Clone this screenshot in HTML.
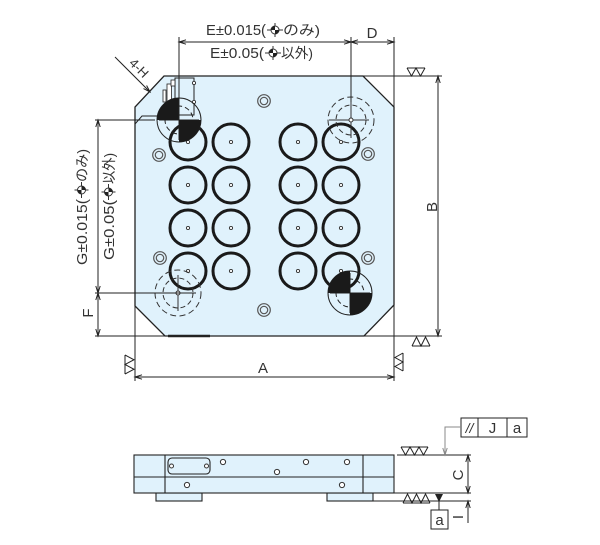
<!DOCTYPE html>
<html><head><meta charset="utf-8"><style>
html,body{margin:0;padding:0;background:#fff;}
svg{display:block;}
text{font-family:"Liberation Sans","Noto Sans CJK JP",sans-serif;fill:#333;}
</style></head><body>
<svg width="600" height="545" viewBox="0 0 600 545" xmlns="http://www.w3.org/2000/svg">
<defs>
<g id="sym">
<line x1="-8" y1="0" x2="8" y2="0" stroke="#333" stroke-width="1"/>
<line x1="0" y1="-7" x2="0" y2="7" stroke="#333" stroke-width="1"/>
<circle r="4" fill="#fff" stroke="#333" stroke-width="1"/>
<path d="M0,0 L-4,0 A4,4 0 0 1 0,-4Z M0,0 L4,0 A4,4 0 0 1 0,4Z" fill="#222"/>
</g>
</defs>

<!-- plate -->
<polygon points="164,76 363,76 394,107 394,305 364,336 165,336 135,306 135,107" fill="#e0f2fc" stroke="#222" stroke-width="1.3"/>
<line x1="168" y1="336" x2="210" y2="336" stroke="#222" stroke-width="2.5"/>

<!-- small inner detail top-left -->
<polyline points="135,124 142,116 157,116" fill="none" stroke="#222" stroke-width="1"/>
<rect x="175" y="78" width="19" height="37" fill="none" stroke="#222" stroke-width="1"/>
<circle cx="194" cy="83" r="1.6" fill="#fff" stroke="#222" stroke-width="0.8"/>
<circle cx="194" cy="102" r="1.6" fill="#fff" stroke="#222" stroke-width="0.8"/>
<rect x="163" y="90" width="3" height="12" fill="#fff" stroke="#222" stroke-width="0.8"/>
<rect x="167" y="84" width="4.5" height="18" fill="#fff" stroke="#222" stroke-width="0.8"/>
<rect x="171" y="80" width="4" height="6" fill="#fff" stroke="#222" stroke-width="0.8"/>

<!-- big rings -->
<g fill="none" stroke="#1a1a1a" stroke-width="3">
<circle cx="188" cy="142" r="18"/><circle cx="231" cy="142" r="18"/><circle cx="298" cy="142" r="18"/><circle cx="341" cy="142" r="18"/>
<circle cx="188" cy="185" r="18"/><circle cx="231" cy="185" r="18"/><circle cx="298" cy="185" r="18"/><circle cx="341" cy="185" r="18"/>
<circle cx="188" cy="228" r="18"/><circle cx="231" cy="228" r="18"/><circle cx="298" cy="228" r="18"/><circle cx="341" cy="228" r="18"/>
<circle cx="188" cy="271" r="18"/><circle cx="231" cy="271" r="18"/><circle cx="298" cy="271" r="18"/><circle cx="341" cy="271" r="18"/>
</g>
<g fill="#fff" stroke="#333" stroke-width="0.9">
<circle cx="188" cy="142" r="1.6"/><circle cx="231" cy="142" r="1.6"/><circle cx="298" cy="142" r="1.6"/><circle cx="341" cy="142" r="1.6"/>
<circle cx="188" cy="185" r="1.6"/><circle cx="231" cy="185" r="1.6"/><circle cx="298" cy="185" r="1.6"/><circle cx="341" cy="185" r="1.6"/>
<circle cx="188" cy="228" r="1.6"/><circle cx="231" cy="228" r="1.6"/><circle cx="298" cy="228" r="1.6"/><circle cx="341" cy="228" r="1.6"/>
<circle cx="188" cy="271" r="1.6"/><circle cx="231" cy="271" r="1.6"/><circle cx="298" cy="271" r="1.6"/><circle cx="341" cy="271" r="1.6"/>
</g>

<!-- small counterbore rings -->
<g fill="none" stroke="#555" stroke-width="1.2">
<circle cx="159" cy="155" r="6.3"/><circle cx="159" cy="155" r="3.7"/>
<circle cx="160" cy="258" r="6.3"/><circle cx="160" cy="258" r="3.7"/>
<circle cx="368" cy="154" r="6.3"/><circle cx="368" cy="154" r="3.7"/>
<circle cx="368" cy="258" r="6.3"/><circle cx="368" cy="258" r="3.7"/>
<circle cx="264" cy="101" r="6.3"/><circle cx="264" cy="101" r="3.7"/>
<circle cx="264" cy="310" r="6.3"/><circle cx="264" cy="310" r="3.7"/>
</g>

<!-- solid targets -->
<g stroke="#222" stroke-width="1" fill="none">
<circle cx="179" cy="120" r="22"/>
<circle cx="179" cy="120" r="14" stroke-dasharray="5,3"/>
<line x1="159" y1="120" x2="199" y2="120"/><line x1="179" y1="100" x2="179" y2="140"/>
<circle cx="350" cy="293" r="22"/>
<circle cx="350" cy="293" r="14" stroke-dasharray="5,3"/>
<line x1="330" y1="293" x2="370" y2="293"/><line x1="350" y1="273" x2="350" y2="313"/>
</g>
<path d="M179,120 L157,120 A22,22 0 0 1 179,98 Z M179,120 L201,120 A22,22 0 0 1 179,142 Z" fill="#1a1a1a"/>
<path d="M350,293 L328,293 A22,22 0 0 1 350,271 Z M350,293 L372,293 A22,22 0 0 1 350,315 Z" fill="#1a1a1a"/>

<!-- dashed targets -->
<g stroke="#333" stroke-width="1" fill="none">
<circle cx="351" cy="120" r="23" stroke-dasharray="6,3.5"/>
<circle cx="351" cy="120" r="15" stroke-dasharray="5,3"/>
<line x1="329" y1="120" x2="369" y2="120"/><line x1="351" y1="102" x2="351" y2="138"/>
<circle cx="351" cy="120" r="2" fill="#fff"/>
<circle cx="178" cy="293" r="23" stroke-dasharray="6,3.5"/>
<circle cx="178" cy="293" r="15" stroke-dasharray="5,3"/>
<line x1="178" y1="275" x2="178" y2="311"/>
<circle cx="178" cy="293" r="2" fill="#fff"/>
</g>

<!-- dimension/extension lines -->
<g stroke="#222" stroke-width="1" fill="none">
<line x1="179" y1="37" x2="179" y2="120"/>
<line x1="351" y1="37" x2="351" y2="102"/>
<line x1="394" y1="37" x2="394" y2="107"/>
<line x1="179" y1="42" x2="394" y2="42"/>
<polyline points="186,39.8 179,42 186,44.2"/>
<polyline points="344,39.8 351,42 344,44.2"/>
<polyline points="358,39.8 351,42 358,44.2"/>
<polyline points="387,39.8 394,42 387,44.2"/>

<line x1="363" y1="76" x2="442" y2="76"/>
<line x1="95" y1="336" x2="442" y2="336"/>
<line x1="438" y1="76" x2="438" y2="336"/>
<polyline points="435.8,83 438,76 440.2,83"/>
<polyline points="435.8,329 438,336 440.2,329"/>

<line x1="95" y1="120" x2="155" y2="120"/>
<line x1="95" y1="293" x2="196" y2="293"/>
<line x1="98" y1="120" x2="98" y2="336"/>
<polyline points="95.8,127 98,120 100.2,127"/>
<polyline points="95.8,286 98,293 100.2,286"/>
<polyline points="95.8,300 98,293 100.2,300"/>
<polyline points="95.8,329 98,336 100.2,329"/>

<line x1="135" y1="305" x2="135" y2="381"/>
<line x1="394" y1="305" x2="394" y2="381"/>
<line x1="135" y1="377" x2="394" y2="377"/>
<polyline points="142,374.8 135,377 142,379.2"/>
<polyline points="387,374.8 394,377 387,379.2"/>

<!-- 4-H leader -->
<line x1="115" y1="57" x2="150" y2="92"/>
<polyline points="143.5,88.6 150,92 146.6,85.5"/>

<!-- surface marks plan view -->
<polyline points="407,68 425,68"/>
<polyline points="407,68 411.5,76 416,68 420.5,76 425,68"/>
<polyline points="412,346 430,346"/>
<polyline points="412,346 416.5,337 421,346 425.5,337 430,346"/>
<polyline points="125,355 125,374"/>
<polyline points="125,355 134,359.75 125,364.5 134,369.25 125,374"/>
<polyline points="403,353 403,371"/>
<polyline points="403,353 395,357.5 403,362 395,366.5 403,371"/>
</g>

<!-- side view -->
<g stroke="#222" stroke-width="1.1" fill="#e0f2fc">
<rect x="156" y="493" width="46" height="8"/>
<rect x="327" y="493" width="46" height="8"/>
<rect x="134" y="455" width="260" height="38"/>
</g>
<g stroke="#222" stroke-width="1.1" fill="none">
<line x1="134" y1="477" x2="394" y2="477"/>
<line x1="165" y1="455" x2="165" y2="493"/>
<line x1="363" y1="455" x2="363" y2="493"/>
<rect x="168" y="458" width="42" height="16" rx="4"/>
</g>
<g stroke="#333" stroke-width="1" fill="#fff">
<circle cx="171.5" cy="466" r="2"/><circle cx="206.5" cy="466" r="2"/>
<circle cx="223" cy="462" r="2.6"/><circle cx="306" cy="462" r="2.6"/><circle cx="347" cy="462" r="2.6"/>
<circle cx="277" cy="472" r="2.6"/><circle cx="187" cy="485" r="2.6"/><circle cx="342" cy="485" r="2.6"/>
</g>

<g stroke="#222" stroke-width="1" fill="none">
<line x1="397" y1="455" x2="471" y2="455"/>
<line x1="394" y1="493" x2="471" y2="493"/>
<line x1="373" y1="501" x2="471" y2="501"/>
<line x1="401" y1="447" x2="428" y2="447"/>
<polyline points="401,447 405.5,455 410,447 414.5,455 419,447 423.5,455 428,447"/>
<line x1="403" y1="503" x2="430" y2="503"/>
<polyline points="403,503 407.5,494 412,503 416.5,494 421,503 425.5,494 430,503"/>
<line x1="439" y1="501" x2="439" y2="510"/>
<rect x="431" y="510" width="17" height="19"/>
<line x1="468" y1="455" x2="468" y2="493"/>
<polyline points="465.8,462 468,455 470.2,462"/>
<polyline points="465.8,486 468,493 470.2,486"/>
<line x1="468" y1="501" x2="468" y2="523"/>
<polyline points="465.8,508 468,501 470.2,508"/>
<rect x="461" y="418" width="66" height="19"/>
<line x1="478" y1="418" x2="478" y2="437"/>
<line x1="507" y1="418" x2="507" y2="437"/>
</g>
<polygon points="435,494 443,494 439,502" fill="#222"/>
<g stroke="#888" stroke-width="1" fill="none">
<polyline points="461,427 445,427 445,455"/>
<polyline points="442.8,448 445,455 447.2,448"/>
</g>

<!-- texts -->
<text x="206" y="35" font-size="15" textLength="60" lengthAdjust="spacingAndGlyphs">E±0.015(</text>
<use href="#sym" x="275" y="30"/>
<text x="283" y="35" font-size="14" textLength="37" lengthAdjust="spacingAndGlyphs">のみ)</text>
<text x="210" y="58" font-size="15" textLength="54" lengthAdjust="spacingAndGlyphs">E±0.05(</text>
<use href="#sym" x="273" y="53"/>
<text x="281" y="58" font-size="14" textLength="32" lengthAdjust="spacingAndGlyphs">以外)</text>
<text x="372" y="38" font-size="15" text-anchor="middle">D</text>

<g transform="translate(87,265) rotate(-90)">
<text x="0" y="0" font-size="15" textLength="66" lengthAdjust="spacingAndGlyphs">G±0.015(</text>
<use href="#sym" x="75" y="-5.5"/>
<text x="83" y="0" font-size="14" textLength="33" lengthAdjust="spacingAndGlyphs">のみ)</text>
</g>
<g transform="translate(114,260) rotate(-90)">
<text x="0" y="0" font-size="15" textLength="60" lengthAdjust="spacingAndGlyphs">G±0.05(</text>
<use href="#sym" x="68" y="-5.5"/>
<text x="76" y="0" font-size="14" textLength="31" lengthAdjust="spacingAndGlyphs">以外)</text>
</g>
<text transform="translate(93,313) rotate(-90)" font-size="15" text-anchor="middle">F</text>
<text transform="translate(437,207) rotate(-90)" font-size="15" text-anchor="middle">B</text>
<text x="263" y="373" font-size="15" text-anchor="middle">A</text>
<text transform="translate(135.8,71.2) rotate(45)" font-size="13" text-anchor="middle">4-H</text>

<text transform="translate(463,475) rotate(-90)" font-size="15" text-anchor="middle">C</text>
<text transform="translate(463,517) rotate(-90)" font-size="15" text-anchor="middle">I</text>
<text x="469.5" y="433" font-size="14" text-anchor="middle" font-style="italic">//</text>
<text x="492.5" y="433" font-size="15" text-anchor="middle">J</text>
<text x="517" y="433" font-size="15" text-anchor="middle">a</text>
<text x="439.5" y="525" font-size="15" text-anchor="middle">a</text>
</svg>
</body></html>
